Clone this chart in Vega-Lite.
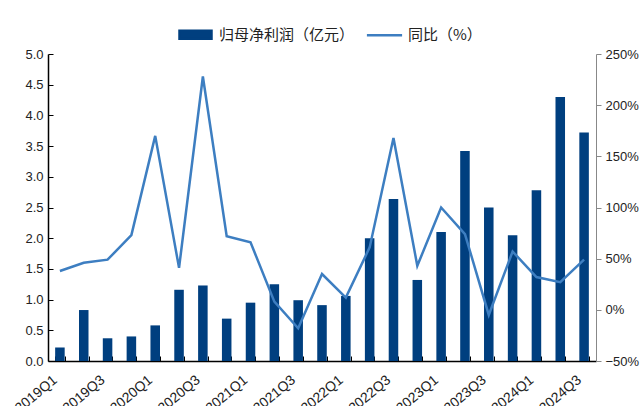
{
  "$schema": "https://vega.github.io/schema/vega-lite/v6.json",
  "width": 548,
  "height": 307,
  "autosize": {"type": "none"},
  "padding": {"left": 48, "top": 54, "right": 46, "bottom": 45},
  "background": "white",
  "config": {"view": {"stroke": null}, "font": "Liberation Sans", "axis": {"grid": false}},
  "data": {
    "values": [
      {"q": "2019Q1", "profit": 0.22, "yoy": 38},
      {"q": "2019Q2", "profit": 0.83, "yoy": 46},
      {"q": "2019Q3", "profit": 0.37, "yoy": 49},
      {"q": "2019Q4", "profit": 0.40, "yoy": 73},
      {"q": "2020Q1", "profit": 0.58, "yoy": 170},
      {"q": "2020Q2", "profit": 1.16, "yoy": 41},
      {"q": "2020Q3", "profit": 1.23, "yoy": 228},
      {"q": "2020Q4", "profit": 0.69, "yoy": 72},
      {"q": "2021Q1", "profit": 0.95, "yoy": 66},
      {"q": "2021Q2", "profit": 1.25, "yoy": 8},
      {"q": "2021Q3", "profit": 0.99, "yoy": -18},
      {"q": "2021Q4", "profit": 0.91, "yoy": 35},
      {"q": "2022Q1", "profit": 1.06, "yoy": 12},
      {"q": "2022Q2", "profit": 2.00, "yoy": 61},
      {"q": "2022Q3", "profit": 2.64, "yoy": 168},
      {"q": "2022Q4", "profit": 1.32, "yoy": 43},
      {"q": "2023Q1", "profit": 2.10, "yoy": 100},
      {"q": "2023Q2", "profit": 3.42, "yoy": 74},
      {"q": "2023Q3", "profit": 2.50, "yoy": -5},
      {"q": "2023Q4", "profit": 2.05, "yoy": 57},
      {"q": "2024Q1", "profit": 2.78, "yoy": 32},
      {"q": "2024Q2", "profit": 4.30, "yoy": 27},
      {"q": "2024Q3", "profit": 3.72, "yoy": 49}
    ]
  },
  "encoding": {
    "x": {
      "field": "q",
      "type": "ordinal",
      "sort": null,
      "scale": {"paddingInner": 0.6, "paddingOuter": 0.3},
      "axis": {
        "title": null,
        "tickBand": "extent",
        "tickSize": -5,
        "tickColor": "#000",
        "domainColor": "#000",
        "domainWidth": 1.5,
        "labelAngle": -40,
        "labelAlign": "right",
        "labelBaseline": "middle",
        "labelFontSize": 14,
        "labelColor": "#222",
        "labelPadding": 22,
        "labelOffset": -5,
        "labelOverlap": false,
        "labelExpr": "test(/Q[13]$/, datum.value) ? datum.value : ''"
      }
    }
  },
  "layer": [
    {
      "mark": {"type": "bar"},
      "encoding": {
        "y": {
          "field": "profit",
          "type": "quantitative",
          "scale": {"domain": [0, 5], "nice": false},
          "axis": {
            "title": null,
            "values": [0, 0.5, 1, 1.5, 2, 2.5, 3, 3.5, 4, 4.5, 5],
            "format": ".1f",
            "tickSize": -5,
            "tickColor": "#000",
            "domainColor": "#000",
            "domainWidth": 1.5,
            "labelFontSize": 13,
            "labelColor": "#222",
            "labelPadding": 10
          }
        },
        "color": {
          "datum": "归母净利润（亿元）",
          "type": "nominal",
          "scale": {"domain": ["归母净利润（亿元）", "同比（%）"], "range": ["#003F7F", "#3D7EC1"]},
          "legend": {
            "orient": "none",
            "legendX": 130,
            "legendY": -37,
            "direction": "horizontal",
            "title": null,
            "labelFont": "Noto Sans CJK SC",
            "labelFontSize": 15,
            "labelColor": "#222",
            "symbolSize": 1024,
            "labelOffset": 6,
            "columnPadding": 6,
            "encode": {
              "symbols": {
                "update": {
                  "shape": {"signal": "datum.value === '同比（%）' ? 'M-1.1,0H1.1' : 'M-1,-0.25H1V0.25H-1Z'"},
                  "fill": {"signal": "datum.value === '同比（%）' ? 'transparent' : '#003F7F'"},
                  "stroke": {"signal": "datum.value === '同比（%）' ? '#3D7EC1' : 'transparent'"},
                  "strokeWidth": {"value": 2.5},
                  "opacity": {"value": 1}
                }
              }
            }
          }
        }
      }
    },
    {
      "mark": {"type": "line", "strokeWidth": 2.5},
      "encoding": {
        "y": {
          "field": "yoy",
          "type": "quantitative",
          "scale": {"domain": [-50, 250], "nice": false},
          "axis": {
            "orient": "right",
            "title": null,
            "values": [-50, 0, 50, 100, 150, 200, 250],
            "labelExpr": "format(datum.value, 'd') + '%'",
            "tickSize": 5,
            "tickColor": "#888",
            "domainColor": "#888",
            "labelFontSize": 13,
            "labelColor": "#222",
            "labelPadding": 4
          }
        },
        "color": {"datum": "同比（%）", "type": "nominal"}
      }
    }
  ],
  "resolve": {"scale": {"y": "independent"}}
}
